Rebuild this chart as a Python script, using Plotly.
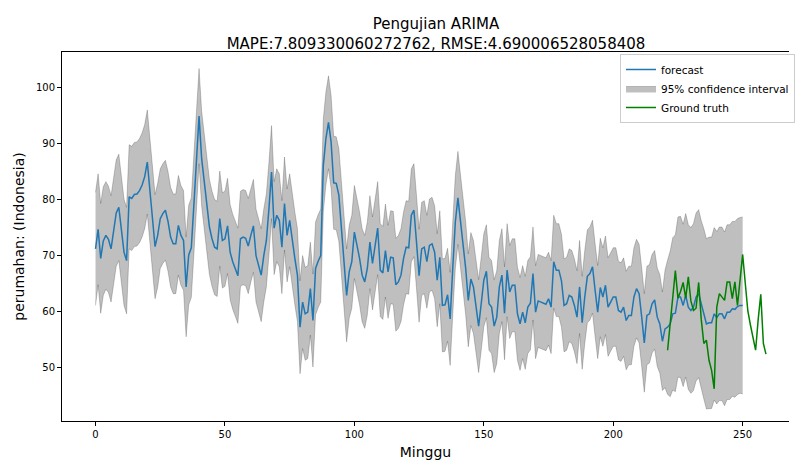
import plotly.graph_objects as go

# ---- data ----
weeks = list(range(0, 251))
forecast = [
    71.1, 74.6, 69.4, 72.5, 73.5, 72.8, 71.1, 74.5, 77.5, 78.5,
    74.0, 70.5, 69.0, 80.4, 80.1, 80.8, 80.9, 81.5, 82.5, 84.0,
    86.6, 81.5, 76.0, 71.5, 73.5, 76.5, 77.4, 78.0, 76.0, 73.2,
    72.0, 72.0, 75.3, 73.5, 72.6, 64.3, 70.0, 71.3, 79.0, 87.5,
    94.8, 87.2, 83.0, 78.8, 75.0, 72.9, 71.4, 71.1, 76.5, 72.6,
    72.9, 75.2, 70.5, 68.8, 67.6, 66.3, 72.9, 73.2, 73.0, 71.6,
    73.5, 75.2, 69.9, 68.2, 66.4, 69.9, 72.6, 78.3, 84.8, 74.8,
    77.1, 76.2, 71.4, 79.2, 73.5, 76.2, 72.3, 69.4, 66.4, 57.1,
    61.6, 59.5, 59.8, 64.0, 58.3, 67.6, 68.9, 69.9, 86.0, 90.8,
    93.7, 90.2, 82.9, 82.8, 80.7, 74.7, 68.8, 62.8, 67.0, 68.8,
    74.1, 72.0, 69.4, 66.4, 65.2, 67.6, 72.3, 68.5, 71.7, 74.8,
    67.3, 66.8, 70.8, 67.0, 69.6, 69.5, 64.7, 65.2, 66.4, 69.4,
    71.4, 71.3, 77.1, 78.0, 72.3, 66.3, 71.1, 71.4, 68.8, 71.7,
    72.0, 70.5, 65.5, 69.6, 61.0, 61.1, 62.9, 58.6, 67.6, 75.9,
    80.2, 75.9, 72.3, 67.6, 61.9, 65.7, 64.3, 60.7, 57.3, 61.3,
    65.5, 67.1, 61.3, 60.7, 57.3, 58.9, 64.3, 66.4, 59.6, 67.3,
    63.4, 64.6, 64.6, 59.5, 57.7, 59.8, 57.9, 60.7, 61.4, 66.7,
    59.8, 61.8, 61.6, 61.4, 61.2, 62.2, 60.7, 68.8, 67.3, 67.3,
    65.4, 61.0, 61.3, 62.8, 62.5, 61.0, 58.9, 64.3, 57.9, 62.5,
    66.2, 66.7, 67.9, 63.7, 59.8, 64.2, 62.5, 64.6, 60.7, 61.6,
    62.5, 62.5, 60.1, 59.8, 60.7, 58.3, 59.2, 59.2, 62.5, 64.0,
    63.1, 58.9, 54.3, 59.2, 59.5, 61.3, 62.0, 58.9, 57.7, 54.6,
    56.8, 57.1, 57.7, 59.5, 59.6, 62.5, 62.5, 61.0, 62.8, 60.7,
    60.1, 60.7, 62.5, 63.1, 61.0, 59.5, 57.7, 57.9, 57.9, 59.5,
    58.8, 59.5, 59.5, 58.6, 59.8, 59.8, 60.4, 60.3, 60.8, 61.0,
    61.0,
]
ci_halfwidth = [
    10.1, 9.9, 9.8, 9.7, 9.6, 9.5, 9.5, 9.5, 9.5, 9.5,
    9.5, 9.5, 9.5, 9.3, 9.3, 9.3, 9.3, 9.3, 9.3, 9.3,
    9.3, 9.3, 9.3, 9.3, 9.3, 8.9, 8.9, 8.9, 8.9, 8.9,
    8.9, 8.9, 8.9, 8.9, 8.9, 8.9, 8.9, 8.9, 8.9, 8.9,
    8.5, 8.5, 8.5, 8.5, 8.5, 8.5, 8.5, 8.5, 8.5, 8.5,
    8.5, 8.5, 8.5, 8.5, 8.5, 8.5, 8.5, 8.5, 8.5, 8.5,
    8.3, 8.3, 8.3, 8.3, 8.3, 8.3, 8.3, 8.3, 8.3, 8.3,
    8.3, 8.3, 8.3, 8.3, 8.3, 8.3, 8.3, 8.3, 8.3, 8.3,
    8.3, 8.3, 8.3, 8.3, 8.3, 8.3, 8.3, 8.3, 8.3, 8.3,
    8.3, 8.3, 8.3, 8.3, 8.3, 8.3, 8.3, 8.3, 8.3, 8.3,
    8.3, 8.3, 8.3, 8.3, 8.3, 8.3, 8.3, 8.3, 8.3, 8.3,
    8.3, 8.3, 8.3, 8.3, 8.3, 8.3, 8.3, 8.3, 8.3, 8.3,
    8.3, 8.3, 8.3, 8.3, 8.3, 8.3, 8.3, 8.3, 8.3, 8.3,
    8.3, 8.3, 8.3, 8.3, 8.3, 8.3, 8.3, 8.3, 8.3, 8.3,
    8.3, 8.3, 8.3, 8.3, 8.3, 8.3, 8.3, 8.3, 8.3, 8.3,
    8.3, 8.3, 8.3, 8.3, 8.3, 8.3, 8.3, 8.3, 8.3, 8.3,
    8.3, 8.3, 8.3, 8.3, 8.3, 8.3, 8.3, 8.3, 8.3, 8.3,
    8.3, 8.3, 8.3, 8.3, 8.3, 8.3, 8.3, 8.3, 8.3, 8.3,
    8.3, 8.3, 8.3, 8.3, 8.3, 8.3, 8.3, 8.3, 8.3, 8.3,
    8.3, 8.3, 8.3, 8.3, 8.3, 8.8, 8.8, 8.8, 8.8, 8.8,
    8.8, 8.8, 8.8, 8.8, 8.8, 8.8, 8.8, 8.8, 8.8, 8.8,
    8.8, 8.8, 8.8, 8.8, 8.8, 8.8, 8.8, 8.8, 8.8, 8.8,
    10.5, 12.0, 13.0, 13.6, 14.0, 14.3, 14.4, 14.5, 14.6, 14.7,
    14.8, 14.9, 15.0, 15.0, 15.1, 15.2, 15.2, 15.3, 15.3, 15.4,
    15.4, 15.5, 15.5, 15.5, 15.6, 15.6, 15.6, 15.7, 15.7, 15.7,
    15.8,
]
truth_weeks = list(range(221, 260))
truth = [
    53.0, 57.5, 62.0, 67.2, 62.3, 63.5, 65.1, 62.3, 66.1, 61.8,
    60.1, 60.5, 65.1, 58.5, 54.2, 54.8, 51.2, 49.4, 46.1, 60.7,
    63.1, 62.5, 61.9, 65.2, 65.2, 62.2, 65.2, 61.0, 65.5, 70.1,
    65.0, 60.0, 57.5, 55.0, 53.0, 58.5, 63.0, 54.2, 52.3,
]
x_ticks = [0, 50, 100, 150, 200, 250]
y_ticks = [50, 60, 70, 80, 90, 100]

assert len(forecast) == len(weeks) == len(ci_halfwidth)
assert len(truth) == len(truth_weeks)

upper = [f + h for f, h in zip(forecast, ci_halfwidth)]
lower = [f - h for f, h in zip(forecast, ci_halfwidth)]

FONT = "DejaVu Sans"
band_col = "rgba(0,0,0,0.25)"

fig = go.Figure()
fig.add_trace(go.Scatter(x=weeks, y=lower, mode="lines",
                         line=dict(color=band_col, width=0.8),
                         showlegend=False, hoverinfo="skip"))
fig.add_trace(go.Scatter(x=weeks, y=upper, mode="lines", fill="tonexty",
                         fillcolor=band_col,
                         line=dict(color=band_col, width=0.8),
                         name="95% confidence interval", legendrank=2))
fig.add_trace(go.Scatter(x=weeks, y=forecast, mode="lines",
                         line=dict(color="#1f77b4", width=1.5),
                         name="forecast", legendrank=1))
fig.add_trace(go.Scatter(x=truth_weeks, y=truth, mode="lines",
                         line=dict(color="#008000", width=1.5),
                         name="Ground truth", legendrank=3))

fig.update_layout(
    width=795, height=460,
    margin=dict(l=62, r=0, t=52, b=39),
    paper_bgcolor="white", plot_bgcolor="white",
    font=dict(family=FONT, color="#000000", size=10),
    title=dict(
        text="Pengujian ARIMA<br>MAPE:7.809330060272762, RMSE:4.690006528058408",
        x=436 / 795, xref="container", xanchor="center",
        y=1 - 29 / 460, yref="container", yanchor="top",
        font=dict(family=FONT, size=15, color="#000000"),
    ),
    legend=dict(
        x=0.768, y=0.9946, xanchor="left", yanchor="top",
        traceorder="normal",
        bgcolor="rgba(255,255,255,0.8)", bordercolor="#cccccc", borderwidth=1,
        font=dict(family=FONT, size=10.5, color="#000000"),
        itemwidth=30, tracegroupgap=0,
    ),
    showlegend=True,
)

fig.update_xaxes(
    range=[-12.95, 267.9], tickmode="array", tickvals=x_ticks,
    ticks="outside", ticklen=4, tickwidth=1, tickcolor="#000",
    showline=True, linecolor="#000", linewidth=1, mirror=True,
    showgrid=False, zeroline=False,
    tickfont=dict(family=FONT, size=10, color="#000"),
    title=dict(text="Minggu", font=dict(family=FONT, size=14, color="#000"), standoff=9),
)
fig.update_yaxes(
    range=[40.36, 106.25], tickmode="array", tickvals=y_ticks,
    ticks="outside", ticklen=4, tickwidth=1, tickcolor="#000",
    showline=True, linecolor="#000", linewidth=1, mirror=False,
    showgrid=False, zeroline=False,
    tickfont=dict(family=FONT, size=10, color="#000"),
    title=dict(text="perumahan: (Indonesia)", font=dict(family=FONT, size=14, color="#000"), standoff=8),
)

fig.write_html("out.html")
